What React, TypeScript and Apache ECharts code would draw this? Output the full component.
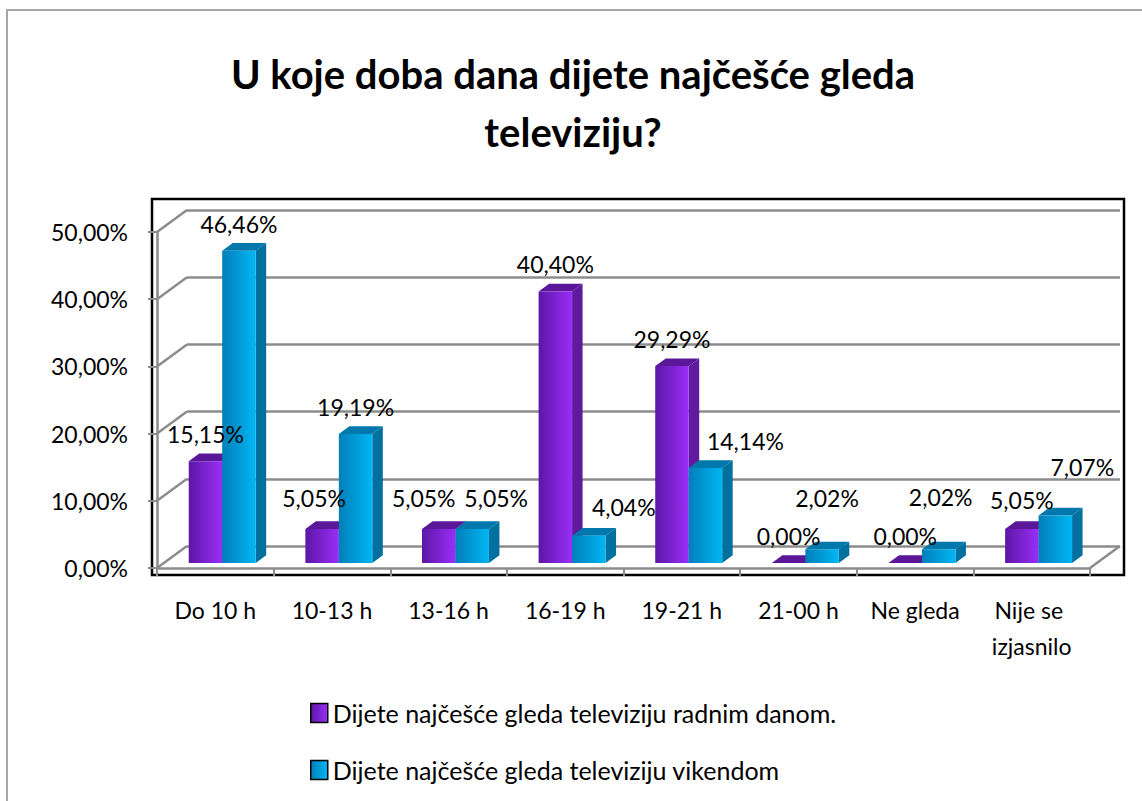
import React, { useEffect, useRef } from "react";
import * as echarts from "echarts";

const categories = ["Do 10 h", "10-13 h", "13-16 h", "16-19 h", "19-21 h", "21-00 h", "Ne gleda", "Nije se izjasnilo"];
const weekdayValues = [15.15, 5.05, 5.05, 40.4, 29.29, 0.0, 0.0, 5.05];
const weekendValues = [46.46, 19.19, 5.05, 4.04, 14.14, 2.02, 2.02, 7.07];
const yTicks = [0, 10, 20, 30, 40, 50];
const seriesNames = [
  "Dijete najčešće gleda televiziju radnim danom.",
  "Dijete najčešće gleda televiziju vikendom",
];
const titleText = "U koje doba dana dijete najčešće gleda\ntelevisiju?".replace("televisiju", "televiziju");

// layout / style constants
const FONT = "Lato";
const GRID_LEFT = 157;
const GRID_TOP = 232;
const GRID_W = 933;
const GRID_H = 336;
const DX = 30;
const DY = -22;
const FRONT = 0.23;
const BAR_DEPTH = 0.35;
const BAR_FRAC = 0.287;
const labelShiftX = [
  [0, -8, -15, 0, 0, 0, 0, 0],
  [0, 0, 24, 35, 40, 5, 2, 27],
];
const labelShiftY = [
  [0, -4, -4, 0, 0, 0, 0, -2],
  [0, 0, -4, -2, 0, -24, -25, -21],
];

const palettes = [
  { left: "#5c17a6", right: "#9a2ef7", top: "#5a1898", side: "#5f1a9e" },
  { left: "#007fba", right: "#00b6f3", top: "#0078ab", side: "#00709f" },
];

const grad = (p: { left: string; right: string }) =>
  new echarts.graphic.LinearGradient(0, 0, 1, 0, [
    { offset: 0, color: p.left },
    { offset: 1, color: p.right },
  ]);

const fmt = (v: number) => v.toFixed(2).replace(".", ",") + "%";

function makeBarRender(s: number) {
  return (params: any, api: any) => {
    const cat = api.value(0);
    const v = api.value(1);
    const base = api.coord([cat, 0]);
    const top = api.coord([cat, v]);
    const band = api.size([1, 0])[0];
    const bw = band * BAR_FRAC;
    const x0 = base[0] - bw + s * bw + DX * FRONT;
    const yb = base[1] + DY * FRONT;
    const yt = top[1] + DY * FRONT;
    const dx = DX * BAR_DEPTH;
    const dy = DY * BAR_DEPTH;
    const pal = palettes[s];
    const i = params.dataIndex;
    return {
      type: "group",
      children: [
        {
          type: "polygon",
          shape: { points: [[x0 + bw, yt], [x0 + bw + dx, yt + dy], [x0 + bw + dx, yb + dy], [x0 + bw, yb]] },
          style: { fill: pal.side },
        },
        {
          type: "polygon",
          shape: { points: [[x0, yt], [x0 + dx, yt + dy], [x0 + bw + dx, yt + dy], [x0 + bw, yt]] },
          style: { fill: pal.top },
        },
        {
          type: "rect",
          shape: { x: x0, y: yt, width: bw, height: Math.max(yb - yt, 0) },
          style: { fill: grad(pal) },
        },
        {
          type: "text",
          z2: 100,
          style: {
            text: fmt(v),
            x: x0 + bw / 2 + labelShiftX[s][i],
            y: yt - 27 + labelShiftY[s][i],
            align: "center",
            verticalAlign: "middle",
            fontSize: 23,
            fontFamily: FONT,
            fill: "#000",
          },
        },
      ],
    };
  };
}

function connectorRender(params: any, api: any) {
  const v = api.value(0);
  const p = api.coord([0, v]);
  const band = api.size([1, 0])[0];
  const left = p[0] - band / 2;
  const children: any[] = [
    {
      type: "line",
      shape: { x1: left, y1: p[1], x2: left + DX, y2: p[1] + DY },
      style: { stroke: "#8c8c8c", lineWidth: 2.5 },
    },
  ];
  if (v === 0) {
    const right = left + band * categories.length;
    children.push({
      type: "line",
      shape: { x1: right, y1: p[1], x2: right + DX, y2: p[1] + DY },
      style: { stroke: "#8c8c8c", lineWidth: 2.5 },
    });
  }
  return { type: "group", children };
}

export default function App() {
  const ref = useRef<HTMLDivElement>(null);
  useEffect(() => {
    if (!ref.current) return;
    const chart = echarts.init(ref.current, undefined, { renderer: "svg" });
    const option: any = {
      animation: false,
      backgroundColor: "#ffffff",
      textStyle: { fontFamily: FONT },
      title: {
        text: titleText,
        left: 568,
        textAlign: "center",
        top: 40,
        textStyle: { fontFamily: FONT, fontWeight: "bold", fontSize: 40, lineHeight: 58, color: "#000" },
      },
      legend: {
        orient: "vertical",
        left: 305,
        top: 694,
        itemWidth: 17,
        itemHeight: 19,
        itemGap: 29,
        textStyle: { fontFamily: FONT, fontSize: 25, color: "#000", lineHeight: 28 },
        data: seriesNames.map((n, s) => ({
          name: n,
          icon: "rect",
          itemStyle: { color: grad(palettes[s]), borderColor: "#000", borderWidth: 1.5 },
        })),
      },
      graphic: [
        {
          type: "rect",
          shape: { x: 7, y: 10, width: 1300, height: 1000 },
          style: { fill: "none", stroke: "#a6a6a6", lineWidth: 2 },
          z: -10,
        },
        {
          type: "rect",
          shape: { x: 152, y: 199, width: 972, height: 376 },
          style: { fill: "none", stroke: "#000", lineWidth: 2.5 },
          z: -5,
        },
      ],
      grid: [
        { left: GRID_LEFT, top: GRID_TOP, width: GRID_W, height: GRID_H },
        { left: GRID_LEFT + DX, top: GRID_TOP + DY, width: GRID_W, height: GRID_H },
      ],
      xAxis: [
        {
          type: "category",
          gridIndex: 0,
          data: categories,
          axisLine: { lineStyle: { color: "#8c8c8c", width: 2.5 } },
          axisTick: { show: true, length: 8, lineStyle: { color: "#8c8c8c", width: 2 } },
          axisLabel: {
            interval: 0,
            margin: 24,
            fontFamily: FONT,
            fontSize: 23,
            lineHeight: 36,
            color: "#000",
            width: 112,
            overflow: "break",
          },
          splitLine: { show: false },
        },
        { type: "category", gridIndex: 1, data: categories, show: false },
      ],
      yAxis: [
        {
          type: "value",
          gridIndex: 0,
          min: 0,
          max: 50,
          interval: 10,
          axisLine: { show: true, lineStyle: { color: "#8c8c8c", width: 2.5 } },
          axisTick: { show: true, length: 9, lineStyle: { color: "#8c8c8c", width: 2 } },
          axisLabel: {
            margin: 29,
            fontFamily: FONT,
            fontSize: 23,
            color: "#000",
            padding: [12, 0, 0, 0],
            formatter: (v: number) => fmt(v),
          },
          splitLine: { show: false },
        },
        {
          type: "value",
          gridIndex: 1,
          min: 0,
          max: 50,
          interval: 10,
          axisLine: { show: false },
          axisTick: { show: false },
          axisLabel: { show: false },
          splitLine: { show: true, lineStyle: { color: "#8c8c8c", width: 2.5 } },
        },
      ],
      series: [
        {
          type: "custom",
          name: "connectors",
          xAxisIndex: 0,
          yAxisIndex: 0,
          clip: false,
          silent: true,
          data: yTicks.map((v) => [v]),
          encode: { y: 0 },
          renderItem: connectorRender,
          z: 1,
        },
        {
          type: "custom",
          name: seriesNames[0],
          xAxisIndex: 0,
          yAxisIndex: 0,
          clip: false,
          data: weekdayValues.map((v, i) => [i, v]),
          encode: { x: 0, y: 1 },
          itemStyle: { color: palettes[0].right },
          renderItem: makeBarRender(0),
          z: 3,
        },
        {
          type: "custom",
          name: seriesNames[1],
          xAxisIndex: 0,
          yAxisIndex: 0,
          clip: false,
          data: weekendValues.map((v, i) => [i, v]),
          encode: { x: 0, y: 1 },
          itemStyle: { color: palettes[1].right },
          renderItem: makeBarRender(1),
          z: 3,
        },
      ],
    };
    chart.setOption(option);
    return () => chart.dispose();
  }, []);
  return (
    <div
      ref={ref}
      style={{ position: "fixed", left: 0, top: 0, width: 1142, height: 801, background: "#fff" }}
    />
  );
}
